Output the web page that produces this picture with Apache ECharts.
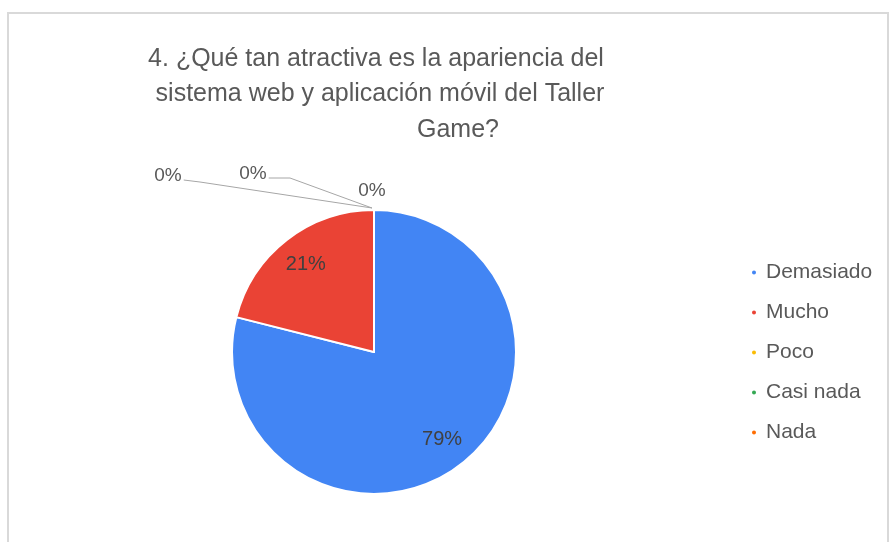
<!DOCTYPE html>
<html>
<head>
<meta charset="utf-8">
<script src="https://cdn.jsdelivr.net/npm/echarts@6/dist/echarts.min.js"></script>
<style>
html,body{margin:0;padding:0;background:#fff;}
#c{width:891px;height:542px;}
</style>
</head>
<body>
<div id="c"></div>
<script>
// ---- data ----
const titleLines = [
  "4. ¿Qué tan atractiva es la apariencia del",
  "sistema web y aplicación móvil del Taller",
  "Game?"
];
const categories = ["Demasiado", "Mucho", "Poco", "Casi nada", "Nada"];
const values = [15, 4, 0, 0, 0];
const colors = ["#4285F4", "#EA4335", "#FBBC04", "#34A853", "#FF6D01"];

// ---- layout ----
const CX = 374, CY = 352, R = 142;
const FONT = "Liberation Sans, Arial, sans-serif";
// offsets of the 0% labels from the top of the pie
const zeroLabelPos = {2: [-206, -34], 3: [-121, -36], 4: [-2, -19]};
const zeroLineBend = {2: [-174, -28], 3: [-84, -32]};

const chart = echarts.init(document.getElementById('c'), null, {renderer: 'canvas'});

const fmt = p => Math.round(p.percent) + '%';

const mainData = categories.map((n, i) => ({
  name: n, value: values[i],
  label: {show: values[i] === 0},
  labelLine: {show: values[i] === 0}
}));
const overlayData = categories.map((n, i) => ({
  name: n, value: values[i],
  label: {show: values[i] > 0}
}));

const option = {
  animation: false,
  color: colors,
  graphic: [{
    type: 'rect', silent: true,
    shape: {x: 8, y: 13, width: 880, height: 600},
    style: {fill: 'none', stroke: '#d9d9d9', lineWidth: 2}
  }],
  title: [
    {text: titleLines[0], left: 371, top: 42, textAlign: 'center',
     textStyle: {fontFamily: FONT, fontSize: 25, fontWeight: 'normal', color: '#595959'}},
    {text: titleLines[1], left: 375, top: 77, textAlign: 'center',
     textStyle: {fontFamily: FONT, fontSize: 25, fontWeight: 'normal', color: '#595959'}},
    {text: titleLines[2], left: 453, top: 113, textAlign: 'center',
     textStyle: {fontFamily: FONT, fontSize: 25, fontWeight: 'normal', color: '#595959'}}
  ],
  legend: {
    orient: 'vertical',
    left: 745, top: 257,
    data: categories,
    icon: 'circle',
    itemWidth: 6, itemHeight: 6,
    itemGap: 19,
    textStyle: {fontFamily: FONT, fontSize: 21, color: '#595959', padding: [0, 0, 0, 4]}
  },
  series: [
    {
      type: 'pie',
      center: [CX, CY],
      radius: [0, R],
      startAngle: 90,
      clockwise: true,
      data: mainData,
      itemStyle: {borderColor: '#fff', borderWidth: 2},
      label: {
        position: 'outside', formatter: fmt,
        fontFamily: FONT, fontSize: 19, color: '#595959'
      },
      labelLine: {lineStyle: {color: '#a6a6a6', width: 1}, length: 10, length2: 10},
      labelLayout: function (p) {
        const pos = zeroLabelPos[p.dataIndex];
        if (!pos) return {};
        const top = [CX, CY - R];
        const lx = CX + pos[0], ly = CY - R + pos[1];
        const w = p.labelRect.width;
        let pts;
        if (zeroLineBend[p.dataIndex]) {
          const b = zeroLineBend[p.dataIndex];
          pts = [[top[0] - 2, top[1] - 2], [CX + b[0], CY - R + b[1]], [lx + w / 2 + 2, ly + 4]];
        } else {
          pts = [[top[0], top[1]], [top[0], top[1]], [top[0], top[1]]];
        }
        return {x: lx, y: ly, align: 'center', verticalAlign: 'middle', labelLinePoints: pts};
      },
      emphasis: {disabled: true}
    },
    {
      type: 'pie',
      center: [CX, CY],
      radius: [R * 0.52, R],
      startAngle: 90,
      clockwise: true,
      silent: true,
      legendHoverLink: false,
      data: overlayData,
      itemStyle: {color: 'rgba(0,0,0,0)', borderWidth: 0},
      label: {
        position: 'inside', formatter: fmt,
        fontFamily: FONT, fontSize: 20, color: '#404040'
      },
      labelLine: {show: false},
      emphasis: {disabled: true}
    }
  ]
};
chart.setOption(option);
</script>
</body>
</html>
